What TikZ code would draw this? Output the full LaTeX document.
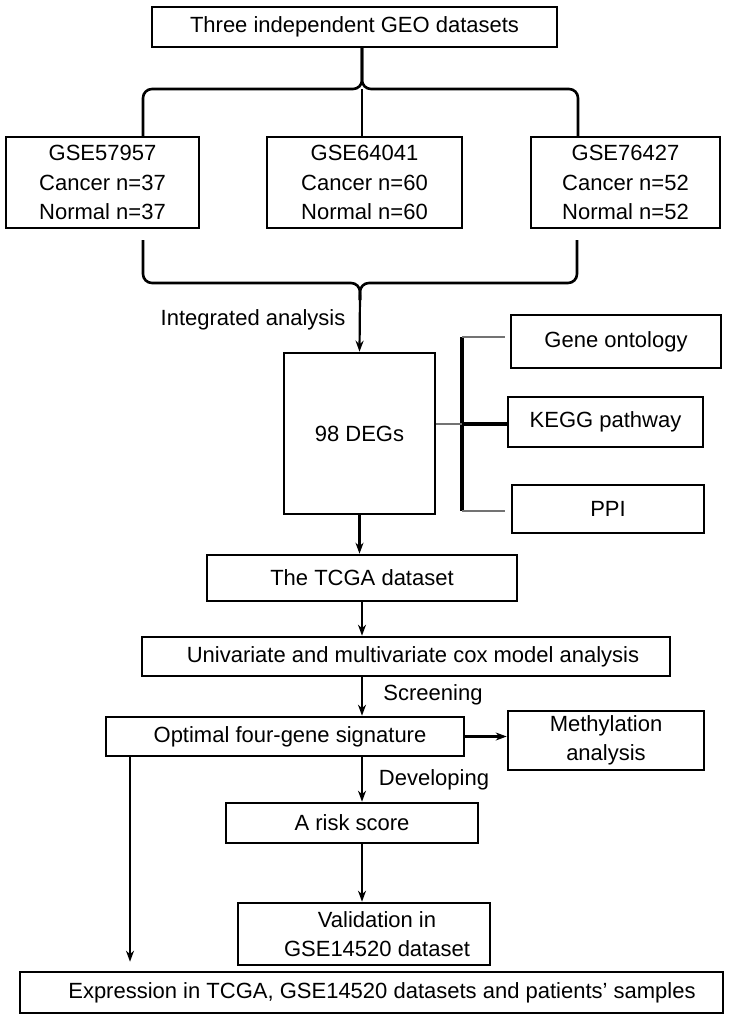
\documentclass[tikz,border=0pt]{standalone}
\usepackage{fontspec}
\setmainfont{Liberation Sans}
\usetikzlibrary{arrows.meta,calc}
\begin{document}
\begin{tikzpicture}[x=1pt,y=-1pt,
  box/.style={draw=black,line width=2.6pt,inner sep=0pt,align=center,font=\fontsize{22}{29.5}\selectfont},
  lbl/.style={inner sep=0pt,font=\fontsize{22}{26}\selectfont},
  arr/.style={line width=2.2pt,-{Stealth[length=11pt,width=8pt]}},
  brace/.style={line width=2.6pt,rounded corners=9pt},
  thin/.style={line width=1.3pt,draw=black!55},
  thick/.style={line width=3.2pt}]
\useasboundingbox (0,0) rectangle (730,1015);
% boxes
\node[box,minimum width=405,minimum height=40] (top) at (354.5,27) {Three independent GEO datasets};
\node[box,minimum width=193,minimum height=91] (g1) at (102.5,182.5) {GSE57957\\Cancer n=37\\Normal n=37};
\node[box,minimum width=195,minimum height=91] (g2) at (364.5,182.5) {GSE64041\\Cancer n=60\\Normal n=60};
\node[box,minimum width=189,minimum height=91] (g3) at (625.5,182.5) {GSE76427\\Cancer n=52\\Normal n=52};
\node[box,minimum width=151,minimum height=161] (deg) at (359.5,433.5) {98 DEGs};
\node[box,minimum width=210,minimum height=53] (go) at (616,341.5) {Gene ontology};
\node[box,minimum width=195,minimum height=50] (kegg) at (605.5,422) {KEGG pathway};
\node[box,minimum width=192,minimum height=48] (ppi) at (608,509) {PPI};
\node[box,minimum width=310,minimum height=46] (tcga) at (362,578) {The TCGA dataset};
\node[box,minimum width=528,minimum height=39] (univ) at (406,656.5) {\hspace*{14pt}Univariate and multivariate cox model analysis};
\node[box,minimum width=358,minimum height=39] (opt) at (285,736.5) {\hspace*{10pt}Optimal four-gene signature};
\node[box,minimum width=196,minimum height=59] (meth) at (606,740.5) {Methylation\\analysis};
\node[box,minimum width=252,minimum height=40] (risk) at (352,823) {A risk score};
\node[box,minimum width=252,minimum height=62] (val) at (364,934) {\hspace*{26pt}Validation in\\\hspace*{26pt}GSE14520 dataset};
\node[box,minimum width=703,minimum height=41] (expr) at (371.5,992.5) {\hspace*{21pt}Expression in TCGA, GSE14520 datasets and patients’ samples};
% labels
\node[lbl] (l1) at (253,320) {Integrated analysis};
\node[lbl] (l2) at (433,695) {Screening};
\node[lbl] (l3) at (434,780) {Developing};
% top brace
\coordinate (tb) at (362,47);
\coordinate (tj) at (362,89);
\draw[brace] (tb) |- (143,89) -- (143,137);
\draw[brace] (tb) |- (578,89) -- (578,137);
\draw[line width=2.6pt] (tj) -- (362,137);
% bottom brace
\coordinate (bj) at (360,283);
\draw[brace] (143,240) |- (bj) -- (360,300);
\draw[brace] (577,240) |- (bj) -- (360,300);
\draw[arr] (360,295) -- (deg.north);
% right bracket
\coordinate (bt) at (462,337);
\coordinate (bb) at (462,511);
\coordinate (bm) at (462,424);
\draw[thick] (bt) -- (bb);
\draw[thin] (bt) -- (505,337);
\draw[thin] (bb) -- (505,511);
\draw[thin] (deg.east |- bm) -- (bm);
\draw[thick] (bm) -- (kegg.west |- bm);
% flow arrows
\draw[arr] (deg.south) -- (deg.south |- tcga.north);
\draw[arr] (tcga.south) -- (tcga.south |- univ.north);
\draw[arr] (tcga.south |- univ.south) -- (tcga.south |- opt.north);
\draw[arr] (opt.east) -- (opt.east -| meth.west);
\draw[arr] (tcga.south |- opt.south) -- (tcga.south |- risk.north);
\draw[arr] (tcga.south |- risk.south) -- (tcga.south |- val.north);
\coordinate (lx) at (130,0);
\coordinate (lend) at ($(expr.north -| lx)+(0,-9)$);
\draw[arr] (opt.south -| lx) -- (lend);
\end{tikzpicture}
\end{document}
